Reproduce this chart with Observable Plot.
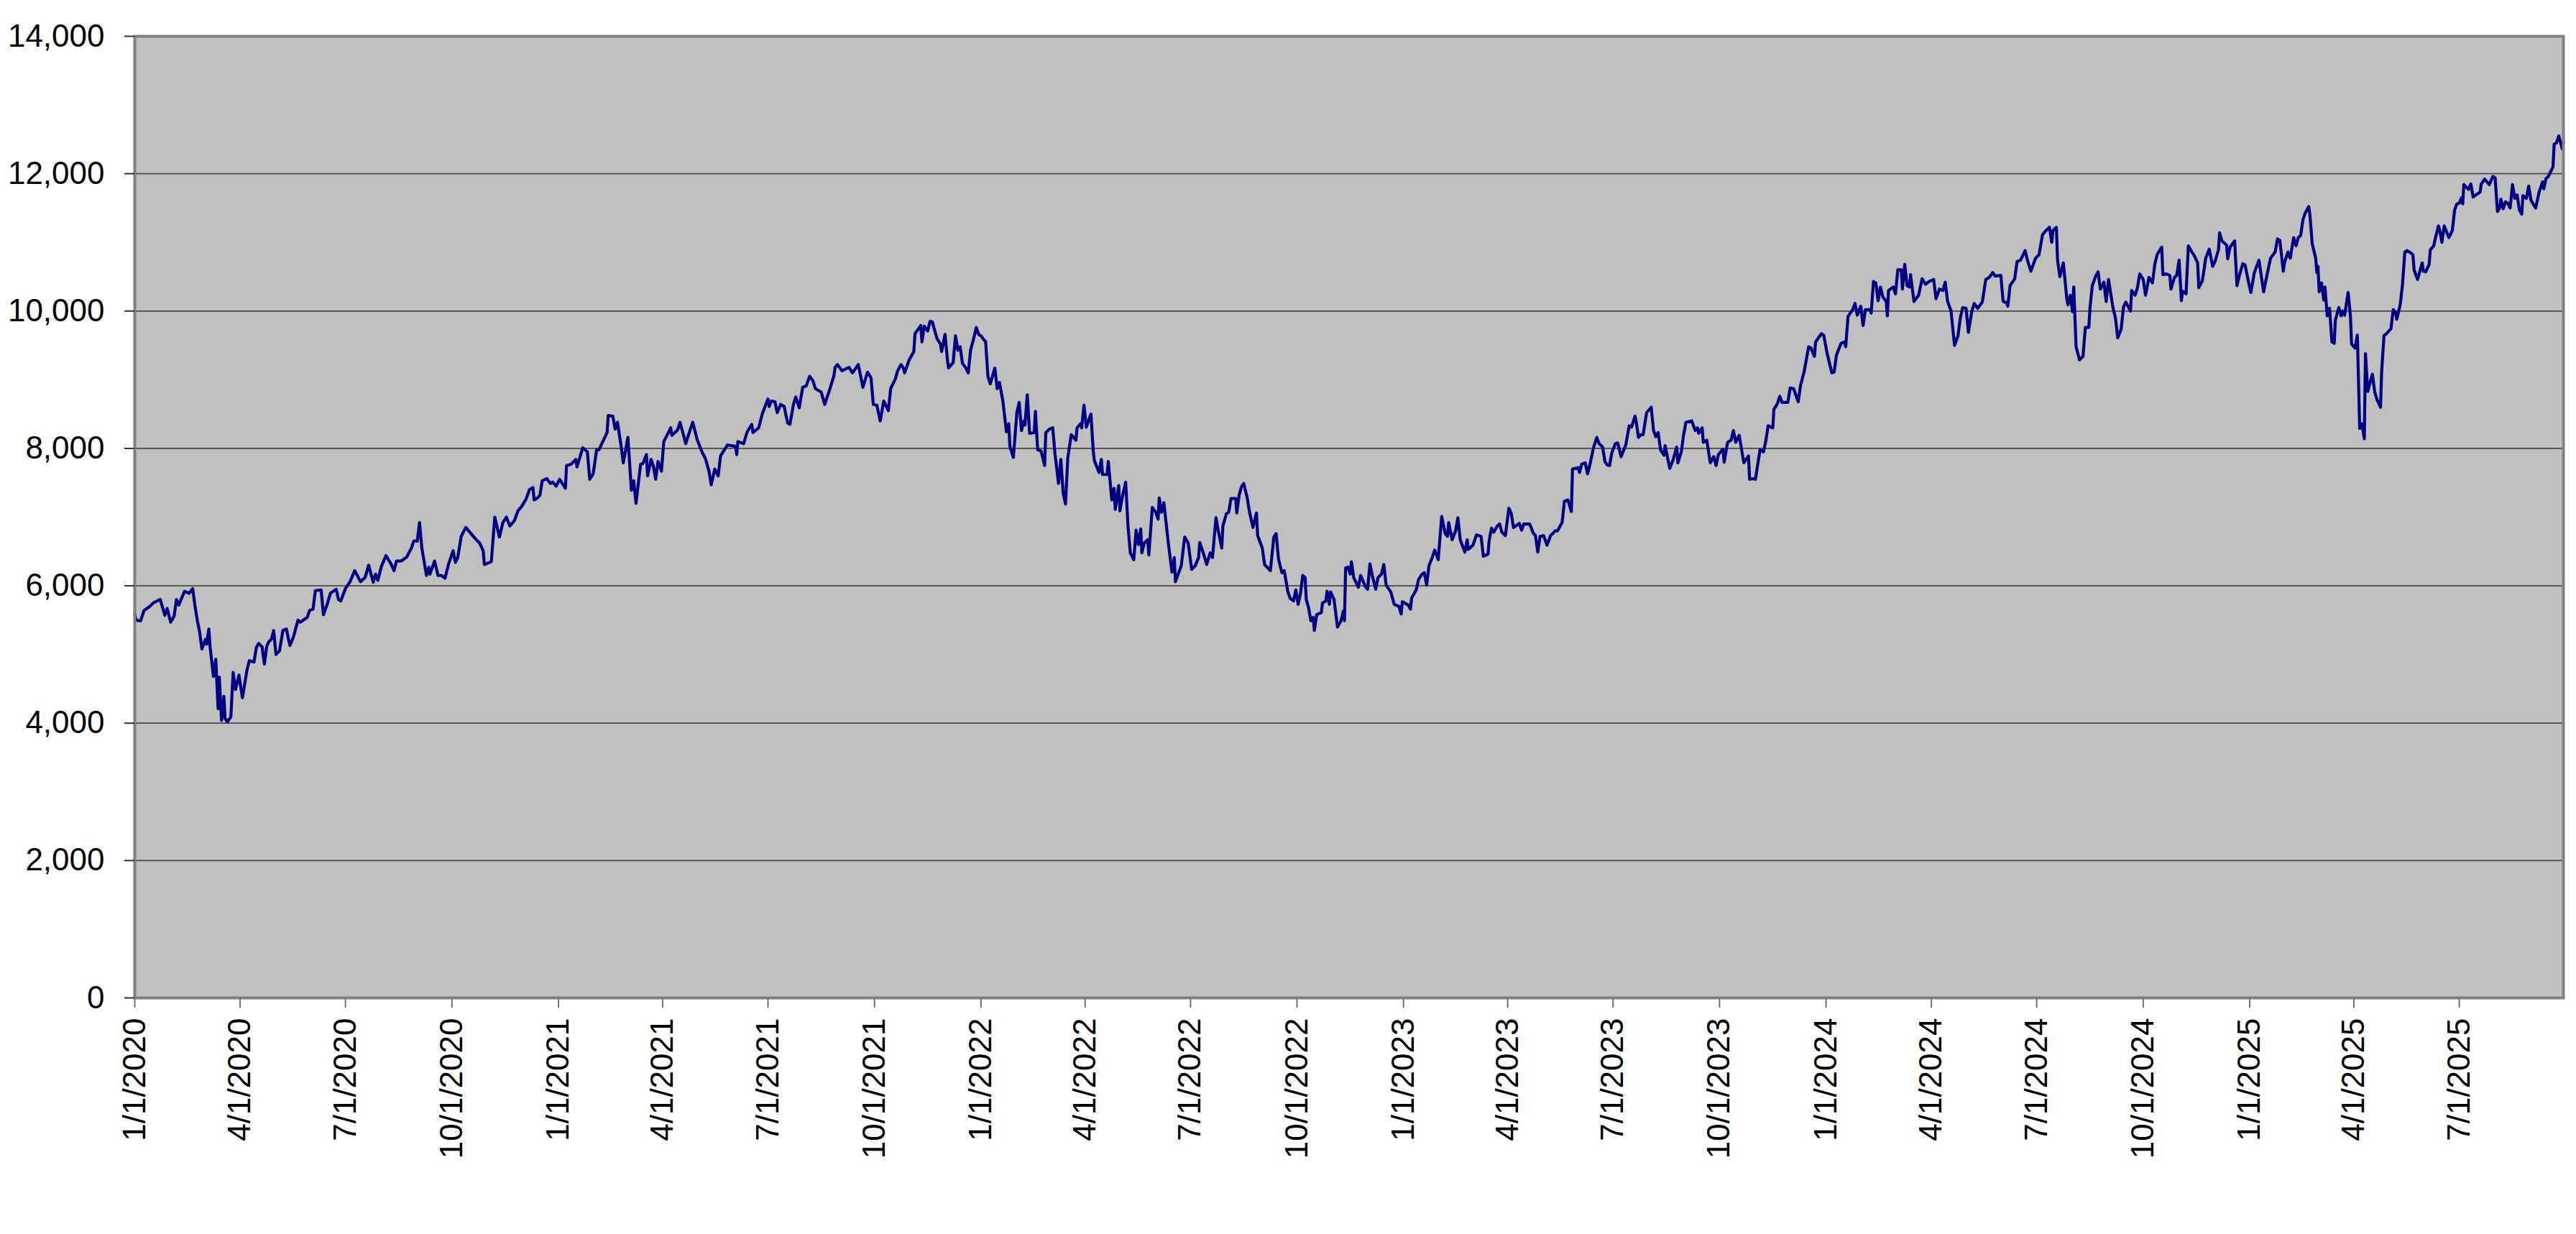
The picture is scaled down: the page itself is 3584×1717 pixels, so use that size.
<!DOCTYPE html>
<html>
<head>
<meta charset="utf-8">
<script src="https://cdn.jsdelivr.net/npm/d3@7"></script>
<script src="https://cdn.jsdelivr.net/npm/@observablehq/plot@0.6"></script>
<style>
  html, body { margin: 0; padding: 0; background: #ffffff; }
  #chart { width: 3584px; height: 1717px; }
</style>
</head>
<body>
<div id="chart"></div>
<script>
// Day offsets are counted from 1/1/2020; values are index levels.
const startDate = "2020-01-01";
const endOffset = 2098;

const pts2020 = [
  [0,5590],[1,5500],[5,5490],[8,5640],[13,5700],[16,5750],[22,5800],[26,5570],[28,5670],[31,5470],
  [34,5560],[36,5800],[38,5720],[43,5920],[47,5890],[50,5960],[52,5710],[54,5500],[56,5330],[58,5080],
  [61,5220],[62,5150],[64,5370],[65,5120],[68,4680],[70,4930],[72,4210],[73,4670],[75,4040],[77,4390],
  [78,4070],[80,4020],[83,4090],[85,4740],[87,4490],[90,4700],[93,4370],[97,4780],[99,4910],[103,4890],
  [105,5100],[107,5160],[110,5110],[112,4860],[114,5120],[116,5190],[118,5220],[120,5350],[122,5000],[125,5050],
  [128,5350],[131,5370],[134,5130],[137,5250],[141,5500],[143,5470],[149,5540],[151,5640],[154,5660],[156,5930],
  [161,5940],[163,5580],[166,5720],[169,5890],[174,5950],[176,5800],[178,5780],[182,5960],[186,6060],[190,6220],
  [195,6060],[199,6120],[202,6300],[206,6050],[208,6170],[210,6080],[213,6280],[217,6440],[221,6330],[224,6220],
  [226,6360],[230,6360],[235,6420],[239,6550],[241,6650],[244,6650],[246,6920],[248,6550],[252,6150],[254,6270],
  [255,6170],[259,6360],[262,6150],[265,6150],[268,6110],[271,6310],[275,6510],[277,6340],[279,6410],[282,6720],
  [286,6850],[294,6690],[298,6620],[301,6510],[302,6310],[308,6350],[311,7000],[315,6710],[318,6920],[321,7000],
  [324,6870],[328,6950],[331,7090],[334,7150],[338,7260],[341,7400],[344,7430],[345,7250],[348,7280],[350,7320],
  [352,7530],[356,7560],[359,7490],[361,7510],[364,7450]
];
const pts2021 = [
  [367,7550],[372,7420],[373,7750],[377,7770],[381,7840],[382,7730],[387,8010],[391,7950],[393,7550],[396,7630],
  [399,7980],[401,7980],[408,8230],[409,8480],[413,8470],[415,8280],[417,8380],[420,8050],[422,7790],[426,8160],
  [429,7390],[431,7530],[433,7200],[435,7490],[437,7770],[439,7780],[442,7910],[443,7600],[446,7840],[448,7740],
  [450,7550],[452,7810],[455,7670],[457,8100],[461,8230],[463,8300],[464,8190],[469,8270],[471,8380],[476,8070],
  [479,8230],[482,8380],[486,8120],[490,7950],[493,7850],[496,7670],[498,7470],[501,7700],[504,7600],[506,7890],
  [512,8050],[519,8030],[520,7910],[521,8100],[526,8070],[529,8240],[533,8350],[534,8230],[539,8300],[542,8500],
  [547,8720],[548,8610],[550,8690],[553,8680],[555,8520],[558,8640],[561,8610],[564,8370],[566,8350],[569,8640],
  [571,8750],[574,8590],[577,8890],[580,8910],[583,9050],[586,8980],[588,8870],[593,8820],[596,8640],[600,8840],
  [604,9060],[605,9180],[607,9220],[611,9130],[617,9180],[620,9100],[625,9220],[629,8890],[633,9110],[636,9030],
  [638,8640],[641,8630],[644,8400],[647,8690],[651,8550],[653,8870],[657,9010],[659,9130],[662,9220],[664,9170],
  [665,9100],[669,9290],[673,9410],[674,9670],[677,9740],[679,9790],[680,9550],[682,9780],[685,9710],[687,9850],
  [689,9840],[693,9600],[696,9520],[697,9410],[700,9660],[702,9290],[703,9170],[707,9250],[709,9640],[711,9430],
  [713,9480],[715,9240],[718,9170],[720,9100],[722,9430],[725,9620],[727,9760],[729,9660]
];
const pts2022 = [
  [731,9640],[734,9570],[735,9560],[737,9050],[739,8940],[743,9170],[745,8870],[747,8960],[750,8680],[753,8240],
  [755,8360],[756,8030],[759,7870],[762,8520],[764,8670],[766,8260],[768,8400],[769,8340],[771,8780],[773,8220],
  [777,8230],[778,8540],[780,7980],[783,7960],[786,7750],[787,8230],[790,8280],[793,8300],[795,7910],[798,7490],
  [800,7840],[802,7350],[804,7190],[806,7860],[809,8200],[813,8120],[814,8300],[817,8360],[818,8300],[820,8630],
  [822,8310],[826,8500],[828,7960],[829,7820],[833,7650],[835,7840],[836,7620],[840,7620],[841,7810],[844,7250],
  [846,7420],[847,7110],[850,7460],[851,7090],[853,7280],[856,7510],[858,6870],[860,6480],[863,6380],[865,6810],
  [867,6600],[869,6830],[870,6480],[872,6620],[875,6670],[876,6450],[879,7140],[882,7070],[884,6970],[885,7280],
  [887,7070],[889,7210],[893,6600],[896,6200],[898,6410],[899,6060],[902,6200],[904,6290],[907,6710],[910,6620],
  [913,6240],[916,6290],[919,6410],[920,6630],[923,6480],[926,6310],[929,6480],[931,6410],[934,6990],[936,6800],
  [939,6550],[940,6870],[943,7050],[945,7070],[947,7270],[951,7270],[952,7060],[954,7320],[956,7440],[958,7490],
  [961,7280],[963,7070],[966,6850],[969,7060],[970,6730],[974,6550],[976,6310],[981,6220],[984,6710],[986,6760],
  [988,6390],[991,6190],[993,6220],[996,5920],[998,5820],[1001,5780],[1003,5940],[1005,5730],[1007,5890],[1009,6150],
  [1011,6120],[1012,5800],[1014,5680],[1016,5490],[1018,5540],[1019,5350],[1021,5580],[1025,5610],[1026,5750],[1029,5780],
  [1030,5920],[1032,5730],[1033,5910],[1036,5800],[1039,5400],[1042,5490],[1044,5630],[1045,5490],[1046,6260],[1048,6270],
  [1050,6170],[1051,6350],[1053,6120],[1057,5980],[1059,6150],[1063,5990],[1065,5950],[1067,6320],[1069,6150],[1072,5950],
  [1074,6120],[1077,6170],[1079,6310],[1081,6010],[1085,5910],[1088,5730],[1092,5700],[1094,5590]
];
const pts2023 = [
  [1095,5770],[1100,5720],[1102,5660],[1103,5820],[1107,5940],[1109,6090],[1112,6170],[1114,6190],[1116,6010],[1118,6290],
  [1121,6420],[1123,6520],[1126,6380],[1129,7010],[1132,6760],[1134,6720],[1135,6920],[1138,6670],[1141,6800],[1143,6990],
  [1145,6670],[1149,6490],[1151,6670],[1152,6530],[1156,6590],[1159,6740],[1163,6720],[1165,6430],[1169,6460],[1170,6660],
  [1172,6840],[1174,6780],[1177,6870],[1179,6900],[1181,6780],[1184,6730],[1187,7130],[1189,7060],[1191,6850],[1193,6870],
  [1196,6910],[1198,6810],[1200,6900],[1205,6900],[1208,6770],[1210,6730],[1212,6490],[1214,6720],[1217,6730],[1220,6590],
  [1223,6730],[1225,6760],[1227,6800],[1229,6800],[1233,6920],[1235,7230],[1238,7250],[1241,7080],[1242,7700],[1247,7720],
  [1248,7650],[1250,7770],[1253,7790],[1255,7630],[1257,7760],[1260,8000],[1263,8160],[1265,8070],[1268,8020],[1270,7810],
  [1272,7760],[1274,7750],[1276,7940],[1279,8070],[1281,8080],[1284,7880],[1288,8050],[1291,8330],[1293,8310],[1296,8470],
  [1297,8390],[1299,8160],[1301,8200],[1303,8200],[1306,8520],[1310,8600],[1312,8260],[1314,8170],[1316,8230],[1318,7980],
  [1321,7900],[1322,8040],[1326,7710],[1329,7840],[1332,8020],[1333,7790],[1336,7950],[1338,8200],[1340,8380],[1345,8400],
  [1348,8260],[1350,8300],[1351,8220],[1354,8300],[1355,8090],[1358,8120],[1361,7790],[1364,7880],[1366,7750],[1368,7910],
  [1372,7990],[1373,7800],[1376,8090],[1379,8120],[1381,8260],[1383,8090],[1386,8190],[1390,7790],[1394,7890],[1395,7550],
  [1398,7560],[1400,7550],[1404,7980],[1407,7950],[1409,8110],[1411,8330],[1415,8300],[1416,8570],[1419,8650],[1421,8760],
  [1423,8670],[1428,8670],[1430,8880],[1433,8870],[1437,8680],[1439,8920],[1442,9110],[1446,9480],[1448,9460],[1451,9340],
  [1452,9550],[1457,9670],[1459,9650]
];
const pts2024 = [
  [1462,9380],[1466,9100],[1468,9110],[1470,9360],[1474,9530],[1477,9550],[1478,9480],[1480,9920],[1484,10020],[1486,10110],
  [1488,9940],[1491,10070],[1493,9790],[1495,10020],[1499,10020],[1500,9970],[1502,10430],[1504,10410],[1506,10150],[1508,10350],
  [1510,10210],[1513,10140],[1514,9930],[1515,10300],[1519,10350],[1521,10250],[1523,10600],[1526,10600],[1527,10320],[1529,10680],
  [1531,10370],[1533,10350],[1534,10530],[1537,10140],[1541,10230],[1544,10470],[1547,10390],[1550,10430],[1554,10460],[1556,10180],
  [1559,10320],[1562,10300],[1564,10420],[1566,10140],[1569,10000],[1570,9830],[1572,9500],[1575,9640],[1577,9900],[1579,10050],
  [1582,10040],[1584,9690],[1587,10000],[1589,10110],[1592,10040],[1596,10130],[1599,10460],[1602,10490],[1605,10560],[1607,10510],
  [1612,10520],[1614,10140],[1617,10120],[1618,10070],[1620,10370],[1624,10470],[1626,10720],[1629,10740],[1633,10880],[1635,10740],
  [1638,10580],[1642,10770],[1645,10820],[1648,11110],[1651,11170],[1654,11220],[1656,11000],[1657,11170],[1660,11220],[1661,10740],
  [1663,10500],[1666,10700],[1669,10180],[1670,10090],[1672,10230],[1674,9990],[1675,10350],[1677,9480],[1680,9290],[1683,9340],
  [1685,9760],[1688,9760],[1689,10040],[1691,10370],[1694,10510],[1696,10570],[1698,10320],[1701,10420],[1703,10140],[1705,10460],
  [1709,10040],[1711,9900],[1713,9610],[1716,9740],[1718,10060],[1720,10130],[1724,10000],[1725,10300],[1728,10230],[1730,10340],
  [1732,10540],[1735,10460],[1737,10230],[1740,10490],[1743,10410],[1745,10680],[1747,10820],[1751,10930],[1752,10530],[1755,10540],
  [1758,10520],[1759,10320],[1762,10490],[1764,10520],[1766,10740],[1768,10150],[1769,10290],[1772,10250],[1774,10950],[1777,10860],
  [1779,10810],[1782,10700],[1783,10340],[1786,10440],[1787,10540],[1789,10770],[1792,10900],[1795,10650],[1797,10720],[1800,10890],
  [1801,11140],[1803,11020],[1807,10960],[1808,10760],[1810,10930],[1814,11020],[1816,10370],[1818,10510],[1821,10690],[1823,10670],
  [1826,10420]
];
const pts2025 = [
  [1828,10270],[1831,10560],[1835,10740],[1839,10280],[1842,10530],[1845,10770],[1849,10860],[1851,11050],[1853,11030],[1856,10580],
  [1857,10700],[1860,10860],[1862,10770],[1865,11070],[1867,10950],[1869,11070],[1871,11100],[1873,11330],[1875,11430],[1878,11520],
  [1879,11400],[1881,10980],[1884,10770],[1885,10560],[1886,10650],[1887,10280],[1889,10410],[1891,10160],[1892,10350],[1894,9930],
  [1896,10040],[1898,9550],[1900,9530],[1901,9870],[1904,10050],[1906,9930],[1907,10000],[1909,9940],[1912,10270],[1914,9930],
  [1915,9520],[1918,9460],[1920,9650],[1922,8290],[1924,8360],[1926,8140],[1927,9380],[1929,8830],[1931,8960],[1933,9080],
  [1935,8820],[1937,8710],[1940,8600],[1941,9130],[1943,9640],[1945,9670],[1949,9740],[1951,10020],[1953,9980],[1954,9880],
  [1957,10090],[1959,10390],[1961,10860],[1963,10880],[1965,10860],[1968,10820],[1969,10600],[1972,10460],[1976,10700],[1977,10580],
  [1979,10570],[1982,10680],[1983,10890],[1986,10950],[1987,11030],[1990,11240],[1991,11190],[1993,11000],[1995,11240],[1999,11070],
  [2002,11170],[2004,11470],[2006,11560],[2008,11570],[2010,11650],[2011,11560],[2012,11840],[2016,11770],[2018,11850],[2020,11660],
  [2024,11710],[2026,11730],[2027,11850],[2030,11920],[2034,11840],[2037,11960],[2039,11940],[2041,11450],[2043,11500],[2044,11630],
  [2046,11490],[2048,11590],[2050,11570],[2052,11500],[2054,11840],[2056,11640],[2058,11690],[2060,11470],[2062,11410],[2063,11680],
  [2066,11640],[2068,11820],[2070,11610],[2074,11500],[2077,11730],[2080,11880],[2081,11780],[2083,11930],[2085,11960],[2089,12100],
  [2090,12430],[2092,12450],[2094,12550],[2097,12360],[2098,12460]
];

const yTicks = [0, 2000, 4000, 6000, 8000, 10000, 12000, 14000];
const xTickLabels = [
  "2020-01-01","2020-04-01","2020-07-01","2020-10-01",
  "2021-01-01","2021-04-01","2021-07-01","2021-10-01",
  "2022-01-01","2022-04-01","2022-07-01","2022-10-01",
  "2023-01-01","2023-04-01","2023-07-01","2023-10-01",
  "2024-01-01","2024-04-01","2024-07-01","2024-10-01",
  "2025-01-01","2025-04-01","2025-07-01"
];

const t0 = new Date(startDate + "T00:00:00Z");
const data = [...pts2020, ...pts2021, ...pts2022, ...pts2023, ...pts2024, ...pts2025]
  .map(([d, v]) => ({date: d3.utcDay.offset(t0, d), value: v}));
const xTicks = xTickLabels.map(s => new Date(s + "T00:00:00Z"));

const chart = Plot.plot({
  width: 3584,
  height: 1717,
  marginLeft: 187,
  marginRight: 18,
  marginTop: 50,
  marginBottom: 329,
  style: {fontFamily: "'Liberation Sans', Arial, sans-serif", fontSize: "44px", background: "#ffffff", color: "#000000"},
  x: {type: "utc", domain: [t0, d3.utcDay.offset(t0, endOffset)]},
  y: {domain: [0, 14000]},
  marks: [
    Plot.frame({fill: "#c0c0c0", stroke: null}),
    Plot.gridY(yTicks, {stroke: "#484848", strokeOpacity: 1, strokeWidth: 1.8}),
    Plot.line(data, {x: "date", y: "value", stroke: "#000080", strokeWidth: 4.2, strokeLinejoin: "round"}),
    Plot.frame({stroke: "#808080", strokeWidth: 4}),
    Plot.axisY(yTicks, {
      tickSize: 14, tickPadding: 28, tickFormat: d3.format(","), fontSize: 44,
      label: null, stroke: "#303030", strokeWidth: 2
    }),
    Plot.axisX(xTicks, {
      tickSize: 14, tickPadding: 14, tickRotate: -90, tickFormat: d3.utcFormat("%-m/%-d/%Y"),
      fontSize: 44, label: null, stroke: "#707070", strokeWidth: 2
    })
  ]
});
document.getElementById("chart").appendChild(chart);
</script>
</body>
</html>
